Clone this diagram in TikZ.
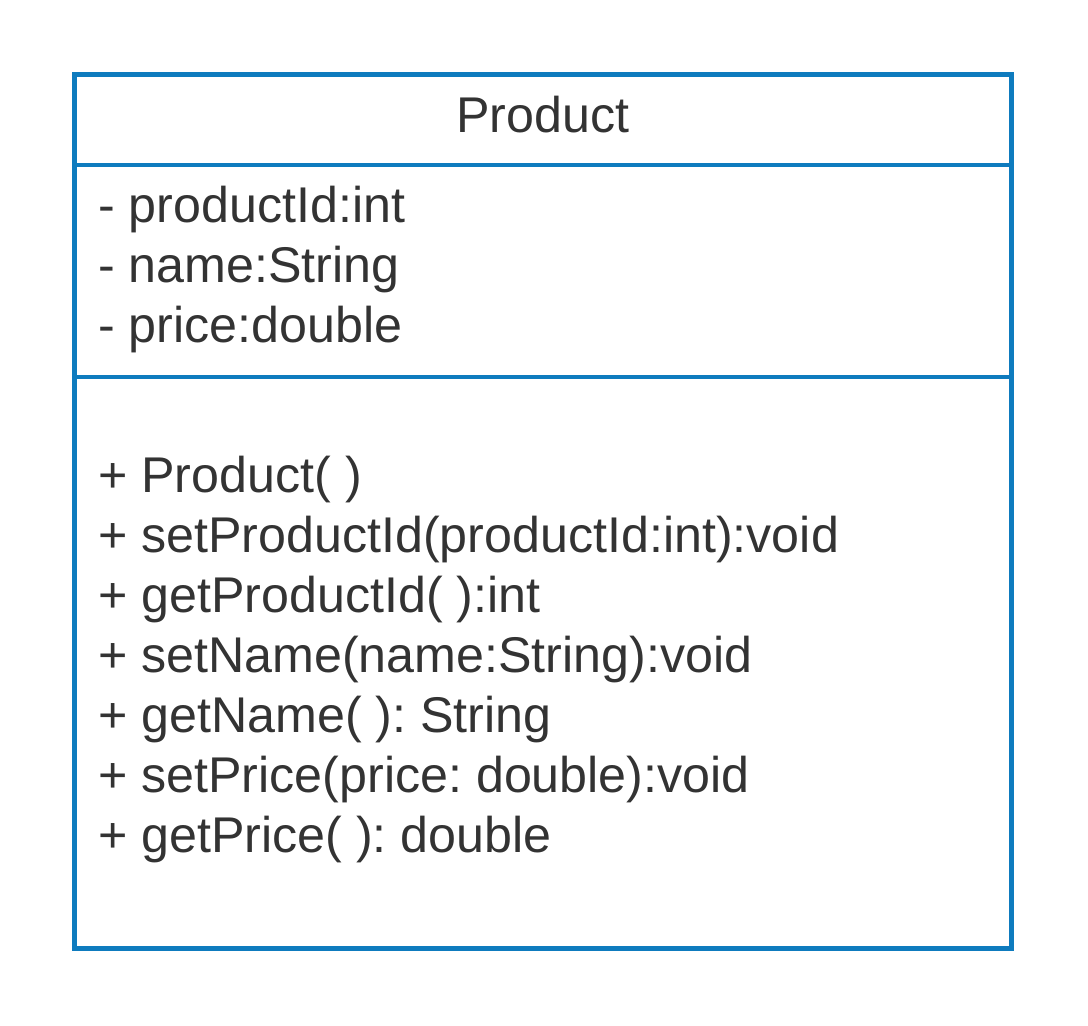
\documentclass[tikz,border=0pt]{standalone}
\usepackage{fontspec}
\setmainfont{Liberation Sans}
\definecolor{umlblue}{HTML}{0E7BBE}
\definecolor{umltext}{HTML}{333333}
\begin{document}
\frenchspacing
\begin{tikzpicture}[x=1pt,y=-1pt,
  boxline/.style={draw=umlblue,line width=4.5pt},
  member/.style={anchor=base west,inner sep=0pt,text=umltext,font=\fontsize{50.2}{60}\selectfont\frenchspacing},
  title/.style={anchor=base,inner sep=0pt,text=umltext,font=\fontsize{50.2}{60}\selectfont}]
\useasboundingbox (0,0) rectangle (1088,1026);
\coordinate (tl) at (74.5,74.5);
\coordinate (br) at (1011.5,948.5);
\draw[boxline] (tl) rectangle (br);
\coordinate (d1l) at (74.5,165);
\coordinate (d1r) at (1011.5,165);
\coordinate (d2l) at (74.5,377);
\coordinate (d2r) at (1011.5,377);
\draw[boxline] (d1l) -- (d1r);
\draw[boxline] (d2l) -- (d2r);
\node[title] (name) at (543,132) {Product};
\node[member] (a1) at (98,222.5) {- productId:int};
\node[member] (a2) at (98,282.5) {- name:String};
\node[member] (a3) at (98,342.5) {- price:double};
\node[member] (m1) at (98,492.5) {+ Product( )};
\node[member] (m2) at (98,552.5) {+ setProductId(productId:int):void};
\node[member] (m3) at (98,612.5) {+ getProductId( ):int};
\node[member] (m4) at (98,672.5) {+ setName(name:String):void};
\node[member] (m5) at (98,732.5) {+ getName( ): String};
\node[member] (m6) at (98,792.5) {+ setPrice(price: double):void};
\node[member] (m7) at (98,852.5) {+ getPrice( ): double};
\end{tikzpicture}
\end{document}
